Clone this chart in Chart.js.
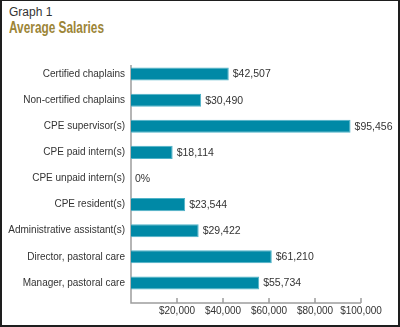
<!DOCTYPE html>
<html>
<head>
<meta charset="utf-8">
<script src="https://cdn.jsdelivr.net/npm/chart.js@4"></script>
<style>
  html, body { margin: 0; padding: 0; background: #fff; }
  #frame {
    position: relative;
    width: 400px; height: 327px;
    box-sizing: border-box;
    border: 2px solid #1e1e1e;
    border-top-width: 1px;
    overflow: hidden;
  }
  #kicker {
    position: absolute; left: 7px; top: 4px;
    font: 12px "Liberation Sans", Arial, sans-serif; color: #333;
  }
  #title {
    position: absolute; left: 7px; top: 18px;
    font: bold 16px "Liberation Sans", Arial, sans-serif;
    color: #9c8537;
    transform: scaleX(0.74);
    transform-origin: left top;
    white-space: nowrap;
  }
  #wrap { position: absolute; left: -2px; top: -1px; width: 400px; height: 327px; }
</style>
</head>
<body>
<div id="frame">
  <div id="kicker">Graph 1</div>
  <div id="title">Average Salaries</div>
  <div id="wrap"><canvas id="barChart"></canvas></div>
</div>
<script>
const categories = [
    "Certified chaplains",
    "Non-certified chaplains",
    "CPE supervisor(s)",
    "CPE paid intern(s)",
    "CPE unpaid intern(s)",
    "CPE resident(s)",
    "Administrative assistant(s)",
    "Director, pastoral care",
    "Manager, pastoral care"
];
const salaries = [42507, 30490, 95456, 18114, 0, 23544, 29422, 61210, 55734];
const xTicks = [0, 20000, 40000, 60000, 80000, 100000];

const money = v => "$" + v.toLocaleString("en-US");

// axis lines sit a little below the last bar, like the print version
const axisLines = {
    id: "axisLines",
    beforeDatasetsDraw(chart) {
        const { ctx, chartArea, scales: { x } } = chart;
        const x0 = x.getPixelForValue(0);
        const xEnd = x.getPixelForValue(xTicks[xTicks.length - 1]);
        const yb = chartArea.bottom + 7;
        ctx.save();
        ctx.strokeStyle = "#9d9d9d";
        ctx.lineWidth = 1.5;
        ctx.beginPath();
        ctx.moveTo(x0, chartArea.top + 4);
        ctx.lineTo(x0, yb);
        ctx.lineTo(xEnd, yb);
        xTicks.forEach(v => {
            if (v === 0) return;
            const px = x.getPixelForValue(v);
            ctx.moveTo(px, yb);
            ctx.lineTo(px, yb - 5);
        });
        ctx.stroke();
        ctx.restore();
    }
};

const valueLabels = {
    id: "valueLabels",
    afterDatasetsDraw(chart) {
        const { ctx } = chart;
        const meta = chart.getDatasetMeta(0);
        ctx.save();
        ctx.font = "10.5px 'Liberation Sans', sans-serif";
        ctx.fillStyle = "#333";
        ctx.textAlign = "left";
        ctx.textBaseline = "middle";
        meta.data.forEach((bar, i) => {
            const v = salaries[i];
            const txt = v === 0 ? "0%" : money(v);
            ctx.fillText(txt, bar.x + 4, bar.y + 0.5);
        });
        ctx.restore();
    }
};

new Chart(document.getElementById("barChart"), {
    type: "bar",
    data: {
        labels: categories,
        datasets: [{
            data: salaries,
            backgroundColor: "#0089a6",
            borderColor: "#4fb3c8",
            borderWidth: 1,
            borderSkipped: "left",
            categoryPercentage: 1,
            barPercentage: 0.5
        }]
    },
    options: {
        indexAxis: "y",
        responsive: true,
        maintainAspectRatio: false,
        animation: false,
        layout: { padding: { top: 61, right: 39, left: 0, bottom: 0 } },
        plugins: {
            legend: { display: false },
            tooltip: { enabled: false }
        },
        scales: {
            y: {
                grid: { display: false, drawTicks: false },
                border: { display: false },
                ticks: {
                    padding: 6,
                    color: "#333",
                    font: { family: "Liberation Sans", size: 10 }
                },
                afterFit(scale) { scale.width = 131; }
            },
            x: {
                min: 0,
                max: 100000,
                grid: { display: false, drawTicks: false },
                border: { display: false },
                afterBuildTicks(scale) {
                    scale.ticks = xTicks.map(v => ({ value: v }));
                },
                ticks: {
                    padding: 9,
                    color: "#333",
                    maxRotation: 0,
                    autoSkip: false,
                    font: { family: "Liberation Sans", size: 10 },
                    callback: v => v === 0 ? "" : money(v)
                },
                afterFit(scale) { scale.height = 31; }
            }
        }
    },
    plugins: [axisLines, valueLabels]
});
</script>
</body>
</html>
